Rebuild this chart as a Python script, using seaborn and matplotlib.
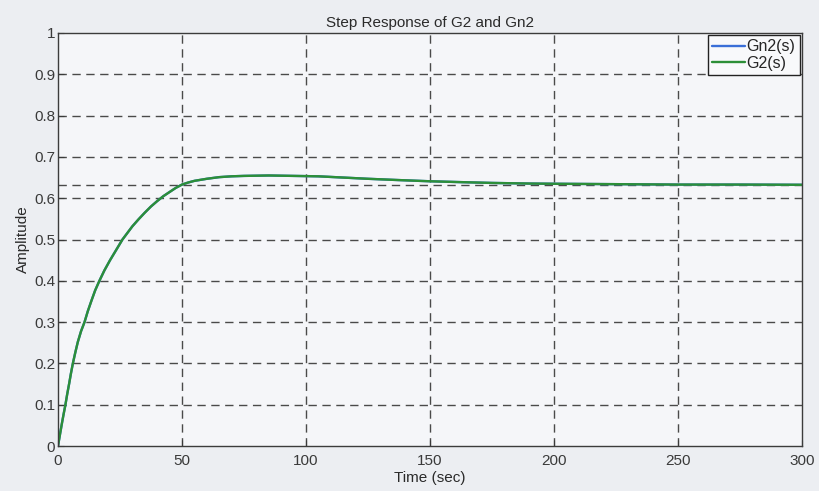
import numpy as np
import pandas as pd
import matplotlib
matplotlib.use("Agg")
import matplotlib.pyplot as plt
import seaborn as sns

# Step response samples (time in seconds, amplitude)
time_s = [0, 0.75, 1.5, 2.2, 3, 3.7, 4.5, 5.2, 6, 7, 8, 9.3, 10.7, 12, 13.5, 15,
          16.7, 18.7, 21, 23.5, 26, 28, 30, 32.5, 35, 37.5, 40, 42.5, 45, 47.5, 50,
          52.5, 55, 60, 65, 70, 75, 85, 95, 105, 115, 125, 137, 150, 162, 175, 190,
          200, 225, 250, 275, 300]
gn2_amp = [0, 0.026, 0.052, 0.075, 0.10, 0.125, 0.151, 0.175, 0.20, 0.227, 0.252,
           0.278, 0.30, 0.326, 0.352, 0.377, 0.40, 0.425, 0.45, 0.475, 0.50, 0.516,
           0.532, 0.549, 0.565, 0.58, 0.593, 0.605, 0.615, 0.625, 0.633, 0.638,
           0.642, 0.647, 0.651, 0.653, 0.654, 0.655, 0.654, 0.653, 0.650, 0.647,
           0.644, 0.641, 0.639, 0.637, 0.6355, 0.635, 0.634, 0.633, 0.633, 0.6325]
g2_amp = [0, 0.026, 0.052, 0.075, 0.10, 0.125, 0.151, 0.175, 0.20, 0.227, 0.252,
          0.278, 0.30, 0.326, 0.352, 0.377, 0.40, 0.425, 0.45, 0.475, 0.50, 0.516,
          0.532, 0.549, 0.565, 0.58, 0.593, 0.605, 0.615, 0.625, 0.633, 0.638,
          0.642, 0.647, 0.651, 0.653, 0.654, 0.655, 0.654, 0.653, 0.650, 0.647,
          0.644, 0.641, 0.639, 0.637, 0.6355, 0.635, 0.634, 0.633, 0.633, 0.6325]
steady_value = 0.632

x_ticks = [0, 50, 100, 150, 200, 250, 300]
y_ticks = [0, 0.1, 0.2, 0.3, 0.4, 0.5, 0.6, 0.7, 0.8, 0.9, 1]
y_labels = ["0", "0.1", "0.2", "0.3", "0.4", "0.5", "0.6", "0.7", "0.8", "0.9", "1"]

sns.set_style("ticks")
plt.rcParams["font.family"] = ["Liberation Sans", "DejaVu Sans"]
plt.rcParams["xtick.direction"] = "in"
plt.rcParams["ytick.direction"] = "in"

df = pd.concat([
    pd.DataFrame({"t": time_s, "y": gn2_amp, "sys": "Gn2(s)"}),
    pd.DataFrame({"t": time_s, "y": g2_amp, "sys": "G2(s)"}),
])

fig = plt.figure(figsize=(8.19, 4.91), dpi=100, facecolor="#eceef2")
ax = fig.add_axes([0.0708, 0.0916, 0.9084, 0.8412])
ax.set_facecolor("#f5f6f9")

sns.lineplot(data=df, x="t", y="y", hue="sys",
             palette={"Gn2(s)": "#3a6fd8", "G2(s)": "#2c8f38"},
             linewidth=1.7, ax=ax, legend=True)

grid_kw = dict(color="#4a4a4a", linestyle=(0, (6, 4)), linewidth=1.0)
for xv in x_ticks[1:-1]:
    ax.axvline(xv, zorder=0.5, **grid_kw)
for yv in y_ticks[1:-1]:
    ax.axhline(yv, zorder=0.5, **grid_kw)
ax.axhline(steady_value, zorder=0.5, **grid_kw)

ax.set_xlim(0, 300)
ax.set_ylim(0, 1)
ax.set_xticks(x_ticks)
ax.set_xticklabels([str(v) for v in x_ticks])
ax.set_yticks(y_ticks)
ax.set_yticklabels(y_labels)
ax.tick_params(labelsize=11, colors="#3a3a3a", length=4, width=0.8)
ax.tick_params(axis="x", pad=6)
ax.tick_params(axis="y", pad=2)
for side in ["top", "right", "bottom", "left"]:
    ax.spines[side].set_visible(True)
    ax.spines[side].set_color("#3c3c3c")
    ax.spines[side].set_linewidth(1.0)

ax.set_title("Step Response of G2 and Gn2", fontsize=11, color="#2a2a2a", pad=4)
ax.set_xlabel("Time (sec)", fontsize=11, color="#2a2a2a", labelpad=2)
ax.set_ylabel("Amplitude", fontsize=11, color="#2a2a2a", labelpad=3)

leg = ax.legend(loc="upper right", fontsize=11.5, frameon=True, fancybox=False,
                handlelength=2.1, handletextpad=0.1, borderpad=0.25,
                labelspacing=0.1, borderaxespad=0.15)
leg.get_frame().set_edgecolor("#222222")
leg.get_frame().set_linewidth(1.0)
leg.get_frame().set_facecolor("#f8f9fb")
leg.get_frame().set_alpha(1)
for line in leg.get_lines():
    line.set_linewidth(1.7)

fig.savefig("out.png", dpi=100, facecolor=fig.get_facecolor())
